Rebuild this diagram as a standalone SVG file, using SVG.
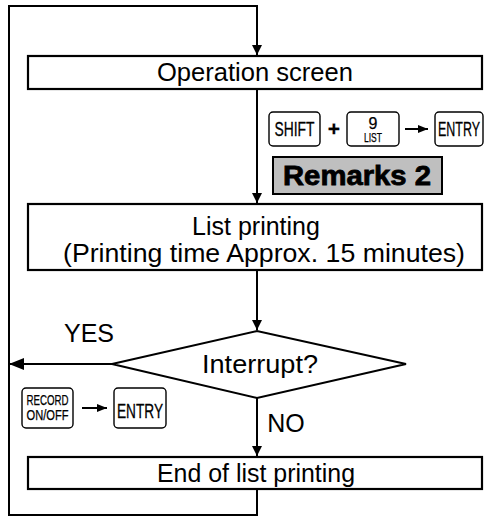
<svg xmlns="http://www.w3.org/2000/svg" width="485" height="519" viewBox="0 0 485 519">
<style>
.box{fill:#fff;stroke:#000;stroke-width:2.2}
.ln{fill:none;stroke:#000;stroke-width:2}
.t{font-family:"Liberation Sans",Arial,sans-serif;font-size:25px;fill:#000;text-anchor:middle}
.key{fill:#fff;stroke:#000;stroke-width:1.4}
.kt{font-family:"Liberation Sans",Arial,sans-serif;font-size:20px;fill:#000;stroke:#000;stroke-width:0.3;text-anchor:middle}
.ks{font-family:"Liberation Sans",Arial,sans-serif;fill:#000;stroke:#000;stroke-width:0.25;text-anchor:middle}
</style>
<defs>
<marker id="ah" markerWidth="10" markerHeight="10" refX="10" refY="5" orient="auto" markerUnits="userSpaceOnUse">
<path d="M0,0 L10,5 L0,10 Z" fill="#000"/>
</marker>
<marker id="ahl" markerWidth="15" markerHeight="12" refX="15" refY="6" orient="auto" markerUnits="userSpaceOnUse">
<path d="M0,0 L15,6 L0,12 Z" fill="#000"/>
</marker>
<marker id="as" markerWidth="10" markerHeight="8" refX="10" refY="4" orient="auto" markerUnits="userSpaceOnUse">
<path d="M0,0 L10,4 L0,8 Z" fill="#000"/>
</marker>
</defs>

<g id="connectors">
<path class="ln" d="M257,490 V515 H9 V6 H257 V55" marker-end="url(#ah)"/>
<path class="ln" d="M257,89 V203" marker-end="url(#ah)"/>
<path class="ln" d="M257,270 V330" marker-end="url(#ah)"/>
<path class="ln" d="M257,398 V456" marker-end="url(#ah)"/>
<path class="ln" d="M112,364 H9" marker-end="url(#ahl)"/>
</g>

<g id="operation-screen">
<rect class="box" x="28" y="56" width="454" height="33"/>
<text class="t" x="255" y="81" textLength="196" lengthAdjust="spacingAndGlyphs">Operation screen</text>
</g>

<g id="keys-top">
<rect class="key" x="269" y="112" width="51" height="34" rx="4"/>
<text class="kt" x="294.5" y="136" textLength="40" lengthAdjust="spacingAndGlyphs">SHIFT</text>
<text class="ks" x="334" y="136" font-size="21" font-weight="bold">+</text>
<rect class="key" x="347" y="112" width="52" height="34" rx="4"/>
<text class="ks" x="373" y="129" font-size="16">9</text>
<text class="ks" x="373" y="142" font-size="12" textLength="18" lengthAdjust="spacingAndGlyphs">LIST</text>
<path class="ln" d="M405,129 H428" marker-end="url(#as)"/>
<rect class="key" x="435" y="112" width="48" height="34" rx="4"/>
<text class="kt" x="459" y="136" textLength="42" lengthAdjust="spacingAndGlyphs">ENTRY</text>
</g>

<g id="remarks">
<rect x="273" y="157" width="169" height="37" fill="#bfbfbf" stroke="#000" stroke-width="2"/>
<text x="357" y="185" font-family="'Liberation Sans',Arial,sans-serif" font-size="27" font-weight="bold" text-anchor="middle" stroke="#000" stroke-width="0.8" textLength="148" lengthAdjust="spacingAndGlyphs">Remarks 2</text>
</g>

<g id="list-printing">
<rect class="box" x="28" y="204" width="454" height="66"/>
<text class="t" x="256" y="235">List printing</text>
<text class="t" x="264" y="262" textLength="402" lengthAdjust="spacingAndGlyphs">(Printing time Approx. 15 minutes)</text>
</g>

<g id="interrupt">
<polygon points="112,364 257,331 406,364 257,398" fill="#fff" stroke="#000" stroke-width="2"/>
<text class="t" x="260" y="373" textLength="116" lengthAdjust="spacingAndGlyphs">Interrupt?</text>
</g>

<text class="t" x="89" y="342">YES</text>
<text class="t" x="286" y="432">NO</text>

<g id="keys-bottom">
<rect class="key" x="22" y="388" width="51" height="40" rx="4"/>
<text class="ks" x="47.5" y="405" font-size="14" textLength="42" lengthAdjust="spacingAndGlyphs">RECORD</text>
<text class="ks" x="47.5" y="420" font-size="14" textLength="42" lengthAdjust="spacingAndGlyphs">ON/OFF</text>
<path class="ln" d="M82,408 H107" marker-end="url(#as)"/>
<rect class="key" x="114" y="388" width="52" height="40" rx="4"/>
<text class="kt" x="140" y="418" textLength="46" lengthAdjust="spacingAndGlyphs">ENTRY</text>
</g>

<g id="end-list-printing">
<rect class="box" x="28" y="457" width="454" height="32"/>
<text class="t" x="256" y="482" textLength="198" lengthAdjust="spacingAndGlyphs">End of list printing</text>
</g>
</svg>
